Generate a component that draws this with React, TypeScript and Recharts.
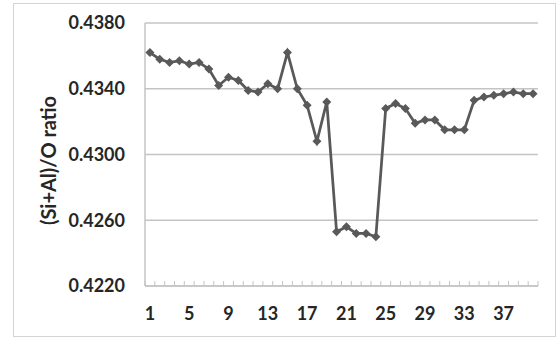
import { LineChart, Line, XAxis, YAxis, CartesianGrid } from 'recharts';

// sample number along the profile
const sample = [
  1, 2, 3, 4, 5, 6, 7, 8, 9, 10,
  11, 12, 13, 14, 15, 16, 17, 18, 19, 20,
  21, 22, 23, 24, 25, 26, 27, 28, 29, 30,
  31, 32, 33, 34, 35, 36, 37, 38, 39, 40,
];

// (Si+Al)/O ratio
const ratio = [
  0.4362, 0.4358, 0.4356, 0.4357, 0.4355, 0.4356, 0.4352, 0.4342, 0.4347, 0.4345,
  0.4339, 0.4338, 0.4343, 0.4340, 0.4362, 0.4340, 0.4330, 0.4308, 0.4332, 0.4253,
  0.4256, 0.4252, 0.4252, 0.4250, 0.4328, 0.4331, 0.4328, 0.4319, 0.4321, 0.4321,
  0.4315, 0.4315, 0.4315, 0.4333, 0.4335, 0.4336, 0.4337, 0.4338, 0.4337, 0.4337,
];

const yTicks = [0.422, 0.426, 0.43, 0.434, 0.438];
const xLabelTicks = [1, 5, 9, 13, 17, 21, 25, 29, 33, 37];

const data = sample.map((s, i) => ({ sample: s, ratio: ratio[i] }));
// excel style tick marks sit between categories
const minorTicks = [...sample.map((s) => s - 0.5), sample[sample.length - 1] + 0.5];
const xTicks = [...minorTicks, ...xLabelTicks].sort((a, b) => a - b);
const xDomain = [sample[0] - 0.5, sample[sample.length - 1] + 0.5];

const FONT = 'Lato, "Open Sans", sans-serif';
const TEXT = '#262626';
const GRID = '#c4c4c4';
const LINE = '#595959';
const X_TICK_GAP = 21;

function Diamond(props: any) {
  const { cx, cy, index } = props;
  if (cx == null || cy == null) return null;
  const r = 4.5;
  return (
    <path
      key={`dot-${index}`}
      d={`M${cx},${cy - r}L${cx + r},${cy}L${cx},${cy + r}L${cx - r},${cy}Z`}
      fill={LINE}
    />
  );
}

// half values -> small mark pointing into the plot, whole values -> label
function XTick(props: any) {
  const { x, y, payload } = props;
  const v = payload.value;
  if (!Number.isInteger(v)) {
    const axisY = y - X_TICK_GAP;
    return <line x1={x} x2={x} y1={axisY} y2={axisY - 5} stroke={GRID} strokeWidth={1} />;
  }
  return (
    <text
      x={x}
      y={y}
      dy="0.71em"
      textAnchor="middle"
      fontFamily={FONT}
      fontWeight={700}
      fontSize={18}
      fill={TEXT}
    >
      {v}
    </text>
  );
}

function YTitle(props: any) {
  const { x, y, height } = props.viewBox;
  const cx = x + 48;
  const cy = y + height / 2 + 6;
  return (
    <text
      x={cx}
      y={cy}
      transform={`rotate(-90 ${cx} ${cy})`}
      textAnchor="middle"
      dominantBaseline="central"
      fontFamily={FONT}
      fontWeight={700}
      fontSize={20}
      fill={TEXT}
    >
      (Si+Al)/O ratio
    </text>
  );
}

export default function App() {
  const tickStyle = { fontFamily: FONT, fontWeight: 700, fontSize: 18, fill: TEXT };
  return (
    <div style={{ position: 'absolute', left: 0, top: 0, width: 559, height: 341, background: '#fff' }}>
      <div
        style={{
          position: 'absolute',
          left: 13,
          top: 3,
          width: 541,
          height: 332,
          border: '1px solid #d4d4d4',
        }}
      />
      <LineChart
        width={559}
        height={341}
        data={data}
        margin={{ top: 23, right: 21, bottom: 0, left: 0 }}
        style={{ position: 'absolute', left: 0, top: 0 }}
      >
        <CartesianGrid vertical={false} stroke={GRID} strokeWidth={1.5} />
        <XAxis
          type="number"
          dataKey="sample"
          domain={xDomain}
          ticks={xTicks}
          interval={0}
          height={55}
          tickLine={false}
          tickSize={0}
          tickMargin={X_TICK_GAP}
          axisLine={{ stroke: GRID, strokeWidth: 1.5 }}
          tick={XTick}
        />
        <YAxis
          width={145}
          domain={[yTicks[0], yTicks[yTicks.length - 1]]}
          ticks={yTicks}
          interval={0}
          tickFormatter={(v: number) => v.toFixed(4)}
          tickLine={false}
          tickSize={0}
          tickMargin={20}
          axisLine={{ stroke: GRID, strokeWidth: 1.5 }}
          tick={tickStyle}
          label={(p: any) => <YTitle {...p} />}
        />
        <Line
          type="linear"
          dataKey="ratio"
          stroke={LINE}
          strokeWidth={2.75}
          dot={Diamond}
          activeDot={false}
          isAnimationActive={false}
        />
      </LineChart>
    </div>
  );
}
